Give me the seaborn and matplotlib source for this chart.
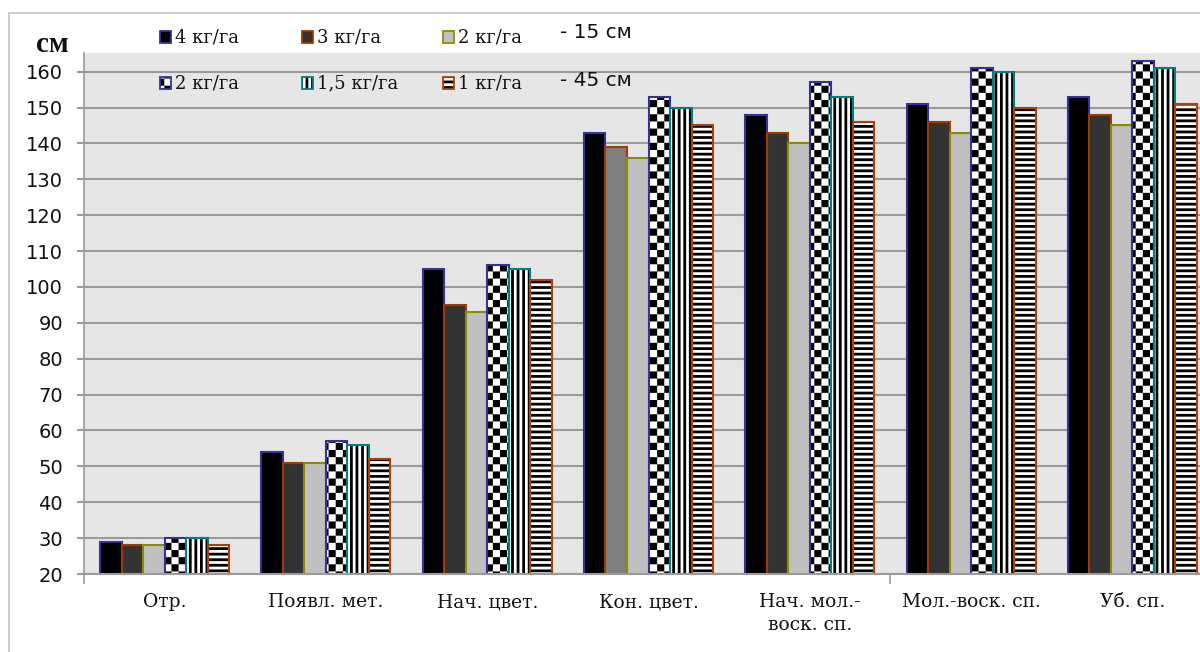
import warnings

import numpy as np
import pandas as pd
import matplotlib
matplotlib.use("Agg")
import matplotlib.pyplot as plt
import matplotlib.hatch as mhatch
from matplotlib.path import Path
from matplotlib.patches import Rectangle
from matplotlib.lines import Line2D
import seaborn as sns

warnings.filterwarnings("ignore", category=matplotlib.MatplotlibDeprecationWarning)

# ---------------------------------------------------------------- data
stages = ["Отр.", "Появл. мет.", "Нач. цвет.", "Кон. цвет.",
          "Нач. мол.-\nвоск. сп.", "Мол.-воск. сп.", "Уб. сп."]

# row spacing 15 cm
h15_rate4 = [29, 54, 105, 143, 148, 151, 153]
h15_rate3 = [28, 51, 95, 139, 143, 146, 148]
h15_rate2 = [28, 51, 93, 136, 140, 143, 145]
# row spacing 45 cm
h45_rate2 = [30, 57, 106, 153, 157, 161, 163]
h45_rate15 = [30, 56, 105, 150, 153, 160, 161]
h45_rate1 = [28, 52, 102, 145, 146, 150, 151]

series_keys = ["15-4", "15-3", "15-2", "45-2", "45-1.5", "45-1"]
series_labels = ["4 кг/га", "3 кг/га", "2 кг/га", "2 кг/га", "1,5 кг/га", "1 кг/га"]
series_values = [h15_rate4, h15_rate3, h15_rate2, h45_rate2, h45_rate15, h45_rate1]

y_ticks = list(range(20, 161, 10))

# ---------------------------------------------------------------- styles
face_colors = ["#000000", "#333333", "#c0c0c0", "#ffffff", "#ffffff", "#ffffff"]
edge_colors = ["#33339a", "#a03a00", "#8c8c00", "#33339a", "#008080", "#b04000"]
hatches = [None, None, None, "c", "v", "h"]


# ---------------------------------------------------------------- fill patterns
class _TileHatch(mhatch.HatchPatternBase):
    """Hatch made of filled rectangles inside the unit tile."""
    char = ""

    def __init__(self, hatch, density):
        count = hatch.count(self.char) if hatch else 0
        self.rects = self.tiles(count) if count else []
        self.num_vertices = 5 * len(self.rects)

    def tiles(self, count):
        return []

    def set_vertices_and_codes(self, vertices, codes):
        for i, (x0, y0, x1, y1) in enumerate(self.rects):
            vertices[5 * i:5 * i + 5] = [(x0, y0), (x1, y0), (x1, y1),
                                         (x0, y1), (x0, y0)]
            codes[5 * i] = Path.MOVETO
            codes[5 * i + 1:5 * i + 4] = Path.LINETO
            codes[5 * i + 4] = Path.CLOSEPOLY


class CheckerHatch(_TileHatch):
    char = "c"

    def tiles(self, count):
        n = 14 * count
        s = 1.0 / n
        return [(i * s, j * s, (i + 1) * s, (j + 1) * s)
                for i in range(n) for j in range(n) if (i + j) % 2 == 0]


class VStripeHatch(_TileHatch):
    char = "v"

    def tiles(self, count):
        n = 18 * count
        s = 1.0 / n
        return [(i * s, 0.0, (i + 0.5) * s, 1.0) for i in range(n)]


class HStripeHatch(_TileHatch):
    char = "h"

    def tiles(self, count):
        n = 18 * count
        s = 1.0 / n
        return [(0.0, i * s, 1.0, (i + 0.5) * s) for i in range(n)]


mhatch._hatch_types.extend([CheckerHatch, VStripeHatch, HStripeHatch])


def style_patch(p, fc, ec, hatch, lw):
    p.set_facecolor(fc)
    p.set_edgecolor(ec)
    p.set_linewidth(lw)
    if hatch:
        p.set_hatch(hatch)
        p._hatch_color = (0.0, 0.0, 0.0, 1.0)


# ---------------------------------------------------------------- figure
sns.set_theme(style="white")
plt.rcParams["hatch.linewidth"] = 0.0
plt.rcParams["font.family"] = ["DejaVu Sans"]

W, H = 1200, 652
fig = plt.figure(figsize=(W / 100, H / 100), dpi=100, facecolor="white")
ax = fig.add_axes([84 / W, (H - 574) / H, 1129 / W, (574 - 53) / H])
ax.set_facecolor("#e6e6e6")

df = pd.DataFrame({
    "stage": np.tile(stages, len(series_keys)),
    "series": np.repeat(series_keys, len(stages)),
    "height": np.concatenate(series_values),
})

sns.barplot(data=df, x="stage", y="height", hue="series",
            order=stages, hue_order=series_keys,
            palette=dict(zip(series_keys, face_colors)), saturation=1,
            width=0.8, gap=0, legend=False, ax=ax, zorder=2)

for cont, fc, ec, hatch in zip(ax.containers, face_colors, edge_colors, hatches):
    for p in cont:
        style_patch(p, fc, ec, hatch, 1.5)

# the 3 kg/ha bar at the end of flowering is shaded a lighter grey
ax.containers[1][3].set_facecolor("#808080")

ax.set_xlim(-0.5, len(stages) - 0.5)
ax.set_ylim(20, 165.2)
ax.set_yticks(y_ticks)
ax.set_xlabel("")
ax.set_ylabel("")

ax.yaxis.grid(True, color="#9a9a9a", linewidth=1.5, zorder=0)
ax.set_axisbelow(True)

for side in ("top", "right"):
    ax.spines[side].set_visible(False)
ax.spines["left"].set_color("#9a9a9a")
ax.spines["left"].set_linewidth(1.2)
ax.spines["bottom"].set_color("#9a9a9a")
ax.spines["bottom"].set_linewidth(1.5)

ax.tick_params(axis="y", which="major", direction="out", length=5, width=1.5,
               color="#9a9a9a", pad=10, labelsize=14, labelcolor="#111111",
               left=True)
for lbl in ax.get_yticklabels():
    lbl.set_family("DejaVu Sans")

ax.tick_params(axis="x", which="major", length=0, pad=14, labelsize=13.5,
               labelcolor="#111111")
ax.set_xticks(range(len(stages)))
ax.set_xticklabels(stages, family="DejaVu Serif", linespacing=1.35)
ax.set_xticks([-0.5, 4.5], minor=True)
ax.tick_params(axis="x", which="minor", direction="out", length=7, width=1.2,
               color="#9a9a9a", bottom=True)

# outer chart frame
frame_c = "#c4c4c4"
fig.add_artist(Line2D([9 / W, 9 / W], [0, 1 - 13 / H], color=frame_c, lw=1.2))
fig.add_artist(Line2D([9 / W, 1], [1 - 13 / H, 1 - 13 / H], color=frame_c, lw=1.2))

# unit label
fig.text(52 / W, 1 - 45 / H, "см", ha="center", va="center",
         family="Liberation Serif", weight="bold", size=21, color="#111111")

# legend: two rows of three entries
slots = [(160, 37), (302, 37), (443, 37), (160, 83), (302, 83), (443, 83)]
for (x, y), lab, fc, ec, hatch in zip(slots, series_labels, face_colors,
                                      edge_colors, hatches):
    m = Rectangle((x / W, 1 - (y + 5.5) / H), 11 / W, 11 / H,
                  transform=fig.transFigure)
    style_patch(m, fc, ec, hatch, 1.3)
    fig.add_artist(m)
    fig.text((x + 15) / W, 1 - y / H, lab, ha="left", va="center",
             family="DejaVu Serif", size=13, color="#111111")

fig.text(560 / W, 1 - 33 / H, "- 15 см", ha="left", va="center",
         family="DejaVu Sans", size=14.5, color="#111111")
fig.text(560 / W, 1 - 80 / H, "- 45 см", ha="left", va="center",
         family="DejaVu Sans", size=14.5, color="#111111")

fig.savefig("out.png", dpi=100, facecolor="white")
